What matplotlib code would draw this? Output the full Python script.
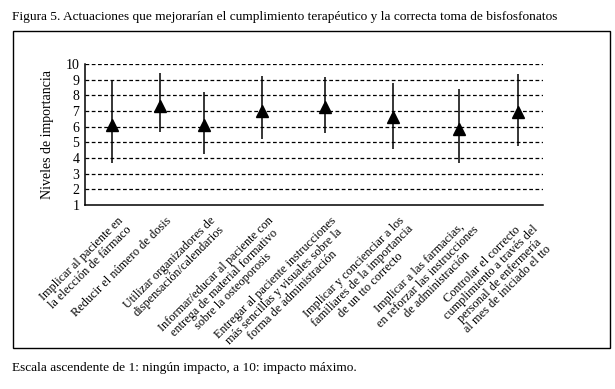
import matplotlib.pyplot as plt
from matplotlib.patches import Rectangle

# datos
actuaciones = [
    "Implicar al paciente en\nla elección de fármaco",
    "Reducir el número de dosis",
    "Utilizar organizadores de\ndispensación/calendarios",
    "Informar/educar al paciente con\nentrega de material formativo\nsobre la osteoporosis",
    "Entregar al paciente instrucciones\nmás sencillas y visuales sobre la\nforma de administración",
    "Implicar y concienciar a los\nfamiliares de la importancia\nde un tto correcto",
    "Implicar a las farmacias,\nen reforzar las instrucciones\nde administración",
    "Controlar el correcto\ncumplimiento a través del\npersonal de enfermería\nal mes de iniciado el tto",
]
media = [6.1, 7.3, 6.1, 7.0, 7.23, 6.63, 5.85, 6.95]
maximo = [9.0, 9.44, 8.23, 9.23, 9.19, 8.77, 8.38, 9.36]
minimo = [3.66, 5.68, 4.25, 5.19, 5.57, 4.57, 3.70, 4.78]

# posiciones de las categorias en el eje (no equiespaciadas en el original)
xpos = [0.47, 1.31, 2.08, 3.09, 4.19, 5.38, 6.53, 7.56]

plt.rcParams['font.family'] = ['Liberation Serif', 'DejaVu Serif']

fig = plt.figure(figsize=(6.15, 3.89), dpi=100)
ax = fig.add_axes([85 / 615, 184 / 389, 458 / 615, 141 / 389])

for y in range(2, 11):
    ax.axhline(y, color='black', lw=0.9, ls=(0, (3, 2)), zorder=1)

ax.vlines(xpos, minimo, maximo, color='black', lw=1.1, zorder=2)
ax.plot(xpos, media, ls='none', marker='^', color='black', markersize=8.5, zorder=3)

ax.set_xlim(0, 8)
ax.set_ylim(1, 10)
ax.set_yticks(range(1, 11))
ax.tick_params(axis='y', length=0, labelsize=10, pad=4)
ax.set_xticks([])
ax.spines['top'].set_visible(False)
ax.spines['right'].set_visible(False)
ax.spines['left'].set_linewidth(1.1)
ax.spines['bottom'].set_linewidth(1.1)
ax.set_ylabel("Niveles de importancia", fontsize=10, labelpad=8)

for x, lab in zip(xpos, actuaciones):
    ax.annotate(lab, xy=(x, 1), xycoords='data', xytext=(4, -7), textcoords='offset points',
                rotation=45, rotation_mode='anchor', ha='right', va='top',
                multialignment='center', fontsize=8.8, linespacing=1.0)

fig.patches.append(Rectangle((13 / 615, 1 - 348 / 389), 597 / 615, 317 / 389,
                             transform=fig.transFigure, fill=False, lw=1.0, ec='black'))
fig.text(12 / 615, 1 - 17 / 389,
         "Figura 5. Actuaciones que mejorarían el cumplimiento terapéutico y la correcta toma de bisfosfonatos",
         fontsize=9.6, va='center', ha='left')
fig.text(12 / 615, 1 - 368 / 389, "Escala ascendente de 1: ningún impacto, a 10: impacto máximo.",
         fontsize=9.6, va='center', ha='left')

fig.savefig("out.png", dpi=100)
